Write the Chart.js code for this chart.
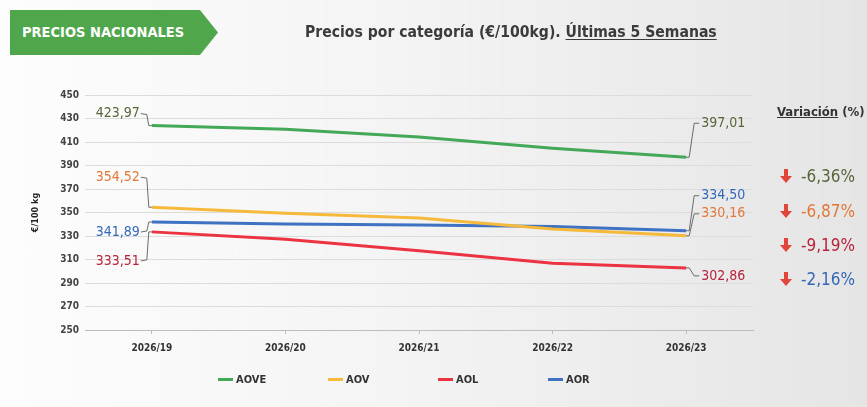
<!DOCTYPE html>
<html>
<head>
<meta charset="utf-8">
<script src="https://cdn.jsdelivr.net/npm/chart.js@4.4.1/dist/chart.umd.min.js"></script>
<style>
  html, body { margin: 0; padding: 0; }
  body {
    width: 867px; height: 407px; overflow: hidden; position: relative;
    background: linear-gradient(90deg, #fdfdfd 0%, #f4f4f4 45%, #e5e5e5 100%);
    font-family: "Liberation Sans Narrow", "DejaVu Sans Condensed", "Roboto Condensed", sans-serif;
  }
  #chart { position: absolute; left: 0; top: 0; }
  .tag {
    position: absolute; left: 10px; top: 10px; width: 208px; height: 45px;
    background: #4fa64b; color: #fff; font-weight: bold; font-size: 14.5px;
    line-height: 45px; padding-left: 12px; box-sizing: border-box;
    clip-path: polygon(0 0, 190px 0, 208px 50%, 190px 100%, 0 100%);
  }
  .title {
    position: absolute; left: 305px; top: 23px; font-size: 15.6px; font-weight: bold;
    color: #3b3b3b; white-space: nowrap;
  }
  .title u { text-decoration-thickness: 1px; text-underline-offset: 2px; }
  .var-head {
    position: absolute; left: 777px; top: 104px; font-size: 13px; font-weight: bold;
    color: #333; white-space: nowrap;
  }
  .var-row {
    position: absolute; left: 780px; font-size: 17px; white-space: nowrap;
    display: flex; align-items: center; height: 24px;
  }
  .var-row svg { margin-right: 9px; }
  .legend {
    position: absolute; left: 218px; top: 373px; display: flex;
  }
  .legend .item {
    width: 110px; display: flex; align-items: center; font-size: 11px; font-weight: bold; color: #333;
  }
  .legend .sw { width: 15px; height: 3px; margin-right: 3px; }
</style>
</head>
<body>
<canvas id="chart" width="867" height="407"></canvas>
<div class="tag">PRECIOS NACIONALES</div>
<div class="title">Precios por categoría (€/100kg). <u>Últimas 5 Semanas</u></div>
<div class="var-head"><u>Variación</u> (%)</div>
<div id="variation"></div>
<div class="legend" id="legend"></div>

<script>
const FONT = '"Liberation Sans Narrow", "DejaVu Sans Condensed", "Roboto Condensed", sans-serif';

// weeks on the x axis
const weeks = ["2026/19", "2026/20", "2026/21", "2026/22", "2026/23"];

// €/100kg per category
const series = ["AOVE", "AOV", "AOL", "AOR"];
const aove = [423.97, 420.8, 414.2, 404.7, 397.01];
const aov = [354.52, 349.3, 345.3, 336.0, 330.16];
const aol = [333.51, 327.2, 317.5, 306.8, 302.86];
const aor = [341.89, 340.2, 339.4, 338.0, 334.50];

// variation first -> last week (%)
const variation = [-6.36, -6.87, -9.19, -2.16];

// y axis range
const yMin = 250, yMax = 450, yStep = 20;

const lineColors = ["#43a857", "#f5b93c", "#ec3341", "#3f72c2"];
const textColors = ["#566739", "#e2783a", "#b8233a", "#3468b8"];

// label placement around the first / last point (px), same order as series
const leftDy = [-12, -30, 29, 10];
const rightDy = [-34, -22, 8, -35];

const fmt = v => v.toFixed(2).replace(".", ",");

const leaderLabels = {
  id: "leaderLabels",
  afterDatasetsDraw(chart) {
    const ctx = chart.ctx;
    ctx.save();
    ctx.font = "14px " + FONT;
    ctx.textBaseline = "middle";
    ctx.strokeStyle = "#6b6b6b";
    ctx.lineWidth = 1;
    chart.data.datasets.forEach((ds, i) => {
      const pts = chart.getDatasetMeta(i).data;
      const a = pts[0], b = pts[pts.length - 1];

      // first week, label on the left
      const ly = a.y + leftDy[i];
      ctx.beginPath();
      ctx.moveTo(a.x - 11, ly);
      ctx.lineTo(a.x - 5, ly + (leftDy[i] < 0 ? 1 : -1));
      ctx.lineTo(a.x - 3, a.y);
      ctx.lineTo(a.x, a.y);
      ctx.stroke();
      ctx.fillStyle = textColors[i];
      ctx.textAlign = "right";
      ctx.fillText(fmt(ds.data[0]), a.x - 12, ly);

      // last week, label on the right
      const ry = b.y + rightDy[i];
      ctx.beginPath();
      ctx.moveTo(b.x, b.y);
      ctx.lineTo(b.x + 3, b.y);
      ctx.lineTo(b.x + 8, ry);
      ctx.lineTo(b.x + 13, ry);
      ctx.stroke();
      ctx.textAlign = "left";
      ctx.fillText(fmt(ds.data[ds.data.length - 1]), b.x + 15, ry);
    });
    ctx.restore();
  }
};

const values = [aove, aov, aol, aor];

const chart = new Chart(document.getElementById("chart"), {
  type: "line",
  data: {
    labels: weeks,
    datasets: series.map((name, i) => ({
      label: name,
      data: values[i],
      borderColor: lineColors[i],
      backgroundColor: lineColors[i],
      borderWidth: 3,
      pointRadius: 0,
      tension: 0,
    })),
  },
  options: {
    responsive: false,
    animation: false,
    layout: { padding: { left: 20, right: 114, top: 95, bottom: 47 } },
    plugins: { legend: { display: false }, tooltip: { enabled: false } },
    scales: {
      x: {
        offset: true,
        grid: { offset: false, drawOnChartArea: false, tickLength: 4, color: "#bdbdbd" },
        border: { color: "#bdbdbd" },
        ticks: { color: "#333", font: { family: FONT, size: 10, weight: "bold" }, padding: 8 },
        afterFit(scale) { scale.height = 30; },
      },
      y: {
        min: yMin,
        max: yMax,
        grid: { color: "#dcdcdc", drawTicks: false },
        border: { display: false },
        ticks: { stepSize: yStep, color: "#444", font: { family: FONT, size: 10, weight: "bold" }, padding: 6 },
        title: {
          display: true, text: "€/100 kg", color: "#222",
          font: { family: FONT, size: 9, weight: "bold" }, padding: { top: 10, bottom: 0 },
        },
        afterFit(scale) { scale.width = 65; },
      },
    },
  },
  plugins: [leaderLabels],
});

// variation panel
const varBox = document.getElementById("variation");
const rowTops = [164, 199, 233, 267];
variation.forEach((v, i) => {
  const row = document.createElement("div");
  row.className = "var-row";
  row.style.top = rowTops[i] + "px";
  row.innerHTML =
    '<svg width="12" height="14" viewBox="0 0 12 14"><path d="M4 0 H8 V7 H12 L6 14 L0 7 H4 Z" fill="#e2453a"/></svg>' +
    '<span style="color:' + textColors[i] + '">' + fmt(v) + "%</span>";
  varBox.appendChild(row);
});

// legend
const legend = document.getElementById("legend");
series.forEach((name, i) => {
  const it = document.createElement("div");
  it.className = "item";
  it.innerHTML = '<span class="sw" style="background:' + lineColors[i] + '"></span>' + name;
  legend.appendChild(it);
});
</script>
</body>
</html>
